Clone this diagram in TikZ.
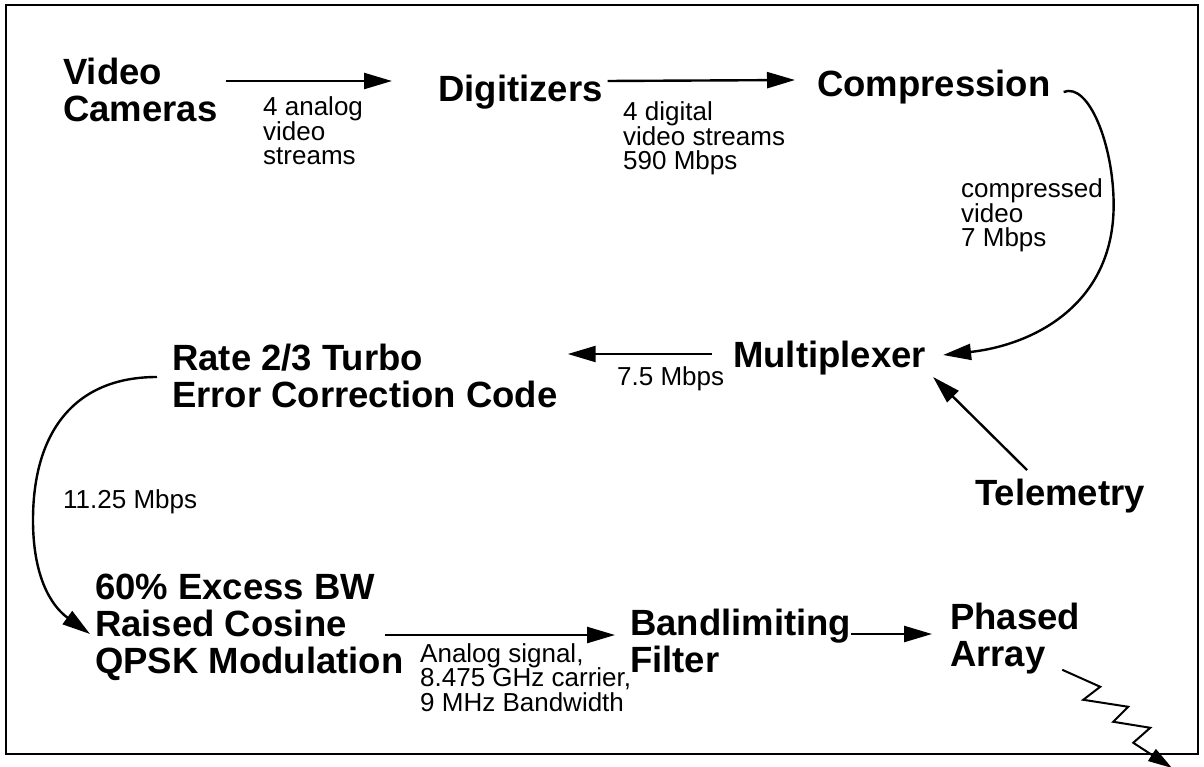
\documentclass[tikz,border=0pt]{standalone}
\usepackage{fontspec}
\setmainfont{Liberation Sans}
\usetikzlibrary{arrows.meta, positioning}
\tikzset{
    block/.style={font={\fontsize{36.5}{37}\selectfont\bfseries\lineskiplimit=-40pt}, align=left, inner sep=0pt, anchor=base west},
    rate/.style={font={\fontsize{26}{24.5}\selectfont\lineskiplimit=-40pt}, align=left, inner sep=0pt, anchor=base west},
    flowarrow/.style={-{Triangle[length=28pt, width=16pt]}, line width=2.4pt},
    beamarrow/.style={-{Triangle[length=24pt, width=14pt]}, line width=2pt},
}

\begin{document}
\begin{tikzpicture}[x=1pt, y=-1pt]
    \useasboundingbox (0,0) rectangle (1204,767);
    \draw[line width=2pt] (6,5) rectangle (1198,754);

    % nodes sit on the baseline of their last line
    \node[block] (cam)  at (63,122)  {Video\\Cameras};
    \node[block] (dig)  at (438,102) {Digitizers};
    \node[block] (comp) at (817,97)  {Compression};
    \node[block] (mux)  at (733,367) {Multiplexer};
    \node[block] (ecc)  at (172,407) {Rate 2/3 Turbo\\Error Correction Code};
    \node[block] (tel)  at (975,505) {Telemetry};
    \node[block] (mod)  at (95,673)  {60\% Excess BW\\Raised Cosine\\QPSK Modulation};
    \node[block] (filt) at (630,672) {Bandlimiting\\Filter};
    \node[block] (arr)  at (950,666) {Phased\\Array};

    \node[rate] (analog)  at (263,165) {4 analog\\video\\streams};
    \node[rate] (digital) at (623,170) {4 digital\\video streams\\590 Mbps};
    \node[rate] (cvideo)  at (961,247) {compressed\\video\\7 Mbps};
    \node[rate] (muxrate) at (617,385) {7.5 Mbps};
    \node[rate] (eccrate) at (63,508)  {11.25 Mbps};
    \node[rate] (rfsig)   at (420,711) {Analog signal,\\8.475 GHz carrier,\\9 MHz Bandwidth};

    \coordinate (beam) at (1172,768);

    \draw[flowarrow] ([shift={(8,-41)}]cam.base east) -- ([shift={(-46,-21)}]dig.base west);
    \draw[flowarrow] ([shift={(5,-21)}]dig.base east) -- ([shift={(-22,-17)}]comp.base west);
    \draw[flowarrow] ([shift={(13,-5)}]comp.base east) .. controls +(25,-10) and +(0,-60) .. ++(50,113)
        .. controls +(0,100) and +(90,-10) .. ([shift={(17,-12)}]mux.base east);
    \draw[flowarrow] ([shift={(52,-35)}]tel.base west) -- ([shift={(7,10)}]mux.base east);
    \draw[flowarrow] ([shift={(-21,-13)}]mux.base west) -- ([shift={(10,-53)}]ecc.base east);
    \draw[flowarrow] ([shift={(-15,-30)}]ecc.base west) .. controls +(-85,0) and +(0,-85) .. ++(-124,143)
        .. controls +(0,55) and +(-40,-29) .. ([shift={(-5,-39)}]mod.base west);
    \draw[flowarrow] ([shift={(-19,-38)}]mod.base east) -- ([shift={(-15,-37)}]filt.base west);
    \draw[flowarrow] ([shift={(0,-38)}]filt.base east) -- ([shift={(-18,-32)}]arr.base west);
    \draw[beamarrow] ([shift={(-18,-4)}]arr.south east) -- ++(38,17) -- ++(-17,13) -- ++(45,7)
        -- ++(-15,15) -- ++(37,6) -- ++(-17,15) -- (beam);
\end{tikzpicture}
\end{document}
